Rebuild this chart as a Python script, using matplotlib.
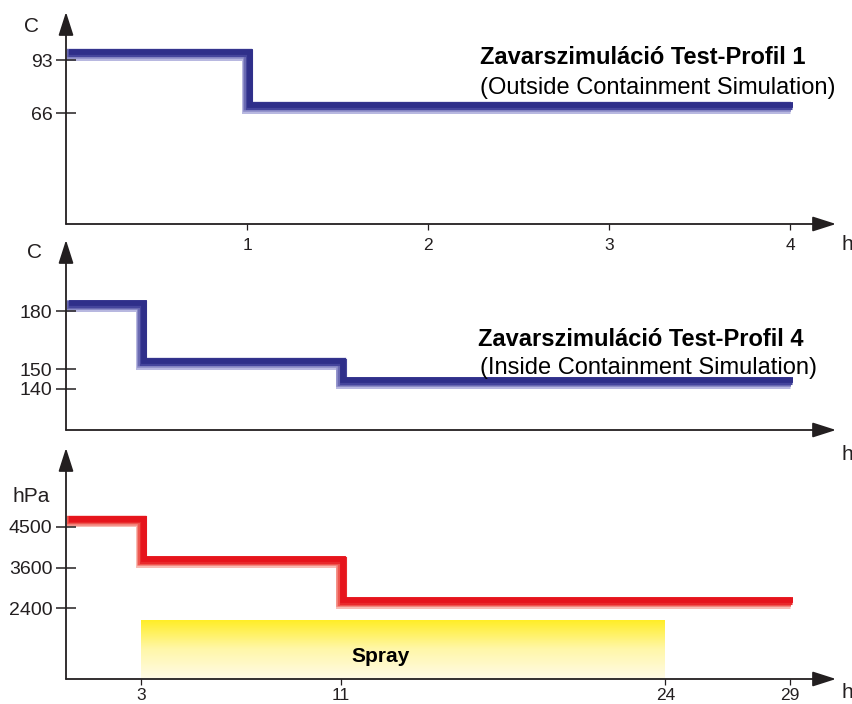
import numpy as np
import matplotlib
matplotlib.use("Agg")
import matplotlib.pyplot as plt
import matplotlib.transforms as mtransforms
from matplotlib.colors import LinearSegmentedColormap

plt.rcParams["font.family"] = ["Liberation Sans", "DejaVu Sans"]

# Test-Profil 1: temperature (C) over time (h)
p1_time = [0, 1, 4]
p1_temp = [93, 66, 66]
p1_xticks = [1, 2, 3, 4]
p1_yticks = [93, 66]

# Test-Profil 4: temperature (C) and pressure (hPa) over time (h)
p4_time = [0, 3, 11, 29]
p4_temp = [180, 150, 140, 140]
p4_press = [4500, 3600, 2400, 2400]
p4_temp_ticks = [180, 150, 140]
p4_press_ticks = [2400, 3600, 4500]
p4_xticks = [3, 11, 24, 29]

# spray period (h) and height of the spray box (hPa)
spray_start, spray_end = 3, 24
spray_top = 2070

W, H = 853, 704
fig = plt.figure(figsize=(W / 100, H / 100), dpi=100)
INK = "#231f20"
BLUES = ["#b8b8e0", "#9090ca", "#6a6ab2", "#45459c", "#2f2f8a"]
REDS = ["#f8bcb4", "#f48c84", "#ee5850", "#e92a2c", "#e6141c"]


def px_axes(left, top, right, bottom):
    return fig.add_axes([left / W, 1 - bottom / H, (right - left) / W, (bottom - top) / H])


def axis_arrows(ax):
    kw = dict(arrowstyle="-|>,head_length=1.0,head_width=0.32", mutation_scale=14.4,
              color=INK, lw=1.3, shrinkA=0, shrinkB=0)
    ax.annotate("", xy=(1, 0), xytext=(0, 0), xycoords="axes fraction",
                arrowprops=kw, annotation_clip=False)
    ax.annotate("", xy=(0, 1), xytext=(0, 0), xycoords="axes fraction",
                arrowprops=kw, annotation_clip=False)
    for s in ax.spines.values():
        s.set_visible(False)
    ax.set_axisbelow(False)
    ax.patch.set_alpha(0)
    ax.tick_params(axis="y", direction="inout", length=13.7, width=1.1, color=INK,
                   pad=3.0, labelsize=14, labelcolor=INK)


def bevel_step(ax, x, y, colors, thick=11):
    # shaded band: bottom edge sits on the value, light at lower-left, dark at upper-right
    n = len(colors)
    for i, color in enumerate(colors):
        b = i * 1.3
        tr = mtransforms.offset_copy(ax.transData, fig=fig, x=b / 2, y=(thick + b) / 2,
                                     units="dots")
        ax.step(x, y, where="post", color=color, lw=(thick - b) * 0.72, transform=tr,
                solid_joinstyle="miter", solid_capstyle="butt", zorder=2)


# ---- panel 1 ----
ax1 = px_axes(66, 12, 836, 224)
axis_arrows(ax1)
bevel_step(ax1, p1_time, p1_temp, BLUES)
ax1.set_xlim(0, 770 / 181)
ax1.set_ylim(9.5, 117.5)
ax1.set_yticks(p1_yticks)
ax1.set_xticks(p1_xticks)
ax1.tick_params(axis="x", direction="out", length=4.3, width=0.9, color=INK,
                pad=6, labelsize=12.5, labelcolor=INK)

# ---- panel 2 ----
ax2 = px_axes(66, 240, 836, 430)
axis_arrows(ax2)
bevel_step(ax2, p4_time, p4_temp, BLUES)
ax2.set_xlim(0, 770 / 24.97)
ax2.set_ylim(118.5, 217)
ax2.set_yticks(p4_temp_ticks)
ax2.set_xticks([])


# ---- panel 3: pressure levels evenly spaced ----
def p_fwd(v):
    v = np.asarray(v, dtype=float)
    r = np.interp(v, p4_press_ticks, [0, 1, 2])
    r = np.where(v < p4_press_ticks[0], (v - p4_press_ticks[0]) / 1200, r)
    r = np.where(v > p4_press_ticks[-1], 2 + (v - p4_press_ticks[-1]) / 900, r)
    return r


def p_inv(r):
    r = np.asarray(r, dtype=float)
    v = np.interp(r, [0, 1, 2], p4_press_ticks)
    v = np.where(r < 0, p4_press_ticks[0] + r * 1200, v)
    v = np.where(r > 2, p4_press_ticks[-1] + (r - 2) * 900, v)
    return v


ax3 = px_axes(66, 448, 836, 679)
axis_arrows(ax3)
ax3.set_yscale("function", functions=(p_fwd, p_inv))
ylow, yhigh = 320, 6240
spray_cmap = LinearSegmentedColormap.from_list("spray", ["#fffbe6", "#fff7a8", "#ffed22"])
grad = np.linspace(0, 1, 256).reshape(-1, 1)
ax3.imshow(grad, extent=[spray_start, spray_end, ylow, spray_top], origin="lower",
           aspect="auto", cmap=spray_cmap, zorder=1, interpolation="bilinear")
ax3.text((spray_start + spray_end) / 2 - 0.9, 970, "Spray", ha="center", va="center",
         fontsize=15, fontweight="bold", color="black", zorder=3)
bevel_step(ax3, p4_time, p4_press, REDS)
ax3.set_xlim(0, 770 / 24.97)
ax3.set_ylim(ylow, yhigh)
ax3.set_yticks(p4_press_ticks)
ax3.set_yticklabels([str(t) for t in p4_press_ticks])
ax3.minorticks_off()
ax3.set_xticks(p4_xticks)
ax3.tick_params(axis="x", direction="out", length=4.3, width=0.9, color=INK,
                pad=2, labelsize=12.5, labelcolor=INK)

# ---- axis units ----
fig.text(32 / W, 1 - 26 / H, "C", fontsize=15, ha="center", va="center", color=INK)
fig.text(34 / W, 1 - 252 / H, "C", fontsize=15, ha="center", va="center", color=INK)
fig.text(31 / W, 1 - 497 / H, "hPa", fontsize=15, ha="center", va="center", color=INK)
for y in (245, 455, 693):
    fig.text(847 / W, 1 - y / H, "h", fontsize=15, ha="center", va="center", color=INK)

# ---- profile titles ----
fig.text(480 / W, 1 - 58 / H, "Zavarszimuláció Test-Profil 1", fontsize=17,
         fontweight="bold", ha="left", va="center")
fig.text(480 / W, 1 - 88 / H, "(Outside Containment Simulation)", fontsize=17,
         ha="left", va="center")
fig.text(478 / W, 1 - 340 / H, "Zavarszimuláció Test-Profil 4", fontsize=17,
         fontweight="bold", ha="left", va="center")
fig.text(480 / W, 1 - 368 / H, "(Inside Containment Simulation)", fontsize=17,
         ha="left", va="center")

fig.savefig("out.png", dpi=100)
